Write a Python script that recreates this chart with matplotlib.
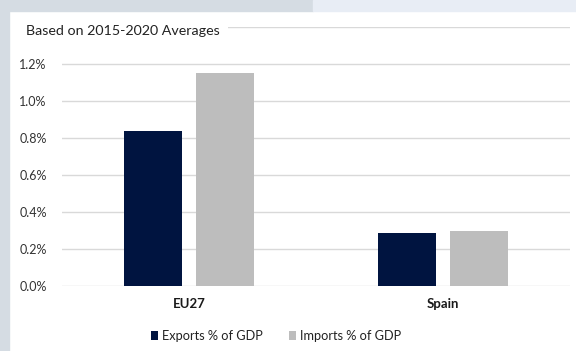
import numpy as np
import matplotlib.pyplot as plt
from matplotlib.patches import Rectangle
from matplotlib.ticker import FuncFormatter

categories = ["EU27", "Spain"]
exports = [0.84, 0.288]
imports = [1.15, 0.297]
series_names = ["Exports % of GDP", "Imports % of GDP"]
yticks = [0.0, 0.2, 0.4, 0.6, 0.8, 1.0, 1.2, 1.4]

plt.rcParams['font.family'] = ['Lato', 'DejaVu Sans']

fig = plt.figure(figsize=(5.76, 3.51), dpi=100)
fig.patch.set_facecolor("white")

# background frame strips
fig.patches.append(Rectangle((0, 0), 9 / 576, 1, transform=fig.transFigure,
                             color="#d5dce3", zorder=0))
fig.patches.append(Rectangle((0, 1 - 11 / 351), 313 / 576, 11 / 351,
                             transform=fig.transFigure, color="#d5dce3", zorder=0))
fig.patches.append(Rectangle((313 / 576, 1 - 11 / 351), 1, 11 / 351,
                             transform=fig.transFigure, color="#e8edf5", zorder=0))

ax = fig.add_axes([62 / 576, 65 / 351, 508 / 576, 259 / 351])
ax.set_facecolor("none")

x = np.arange(len(categories))
w = 0.225
off = 0.142
ax.bar(x - off, exports, w, color="#001440", label=series_names[0], zorder=3)
ax.bar(x + off, imports, w, color="#bdbdbd", label=series_names[1], zorder=3)

ax.set_xlim(-0.5, 1.5)
ax.set_ylim(0, 1.4)
ax.set_yticks(yticks)
ax.yaxis.set_major_formatter(FuncFormatter(lambda v, p: "" if v > 1.3 else f"{v:.1f}%"))
ax.grid(axis="y", color="#d9d9d9", linewidth=1, zorder=0)
ax.set_xticks(x)
ax.set_xticklabels(categories, fontweight="bold", fontsize=9.5, color="#1a1a1a")
ax.tick_params(axis="y", length=0, labelsize=9, labelcolor="#333333", pad=11)
ax.tick_params(axis="x", length=0, pad=9)
for s in ax.spines.values():
    s.set_visible(False)

fig.text(26 / 576, 1 - 31 / 351, "Based on 2015-2020 Averages", fontsize=10.3,
         color="#222222", va="center", ha="left",
         bbox=dict(facecolor="white", edgecolor="none", pad=6))

fig.legend(loc="center", bbox_to_anchor=(276 / 576, 1 - 336 / 351), ncol=2,
           frameon=False, fontsize=9.2, handlelength=0.6, handleheight=0.6,
           handletextpad=0.3, columnspacing=2.0, labelcolor="#222222")

fig.savefig("out.png", dpi=100)
